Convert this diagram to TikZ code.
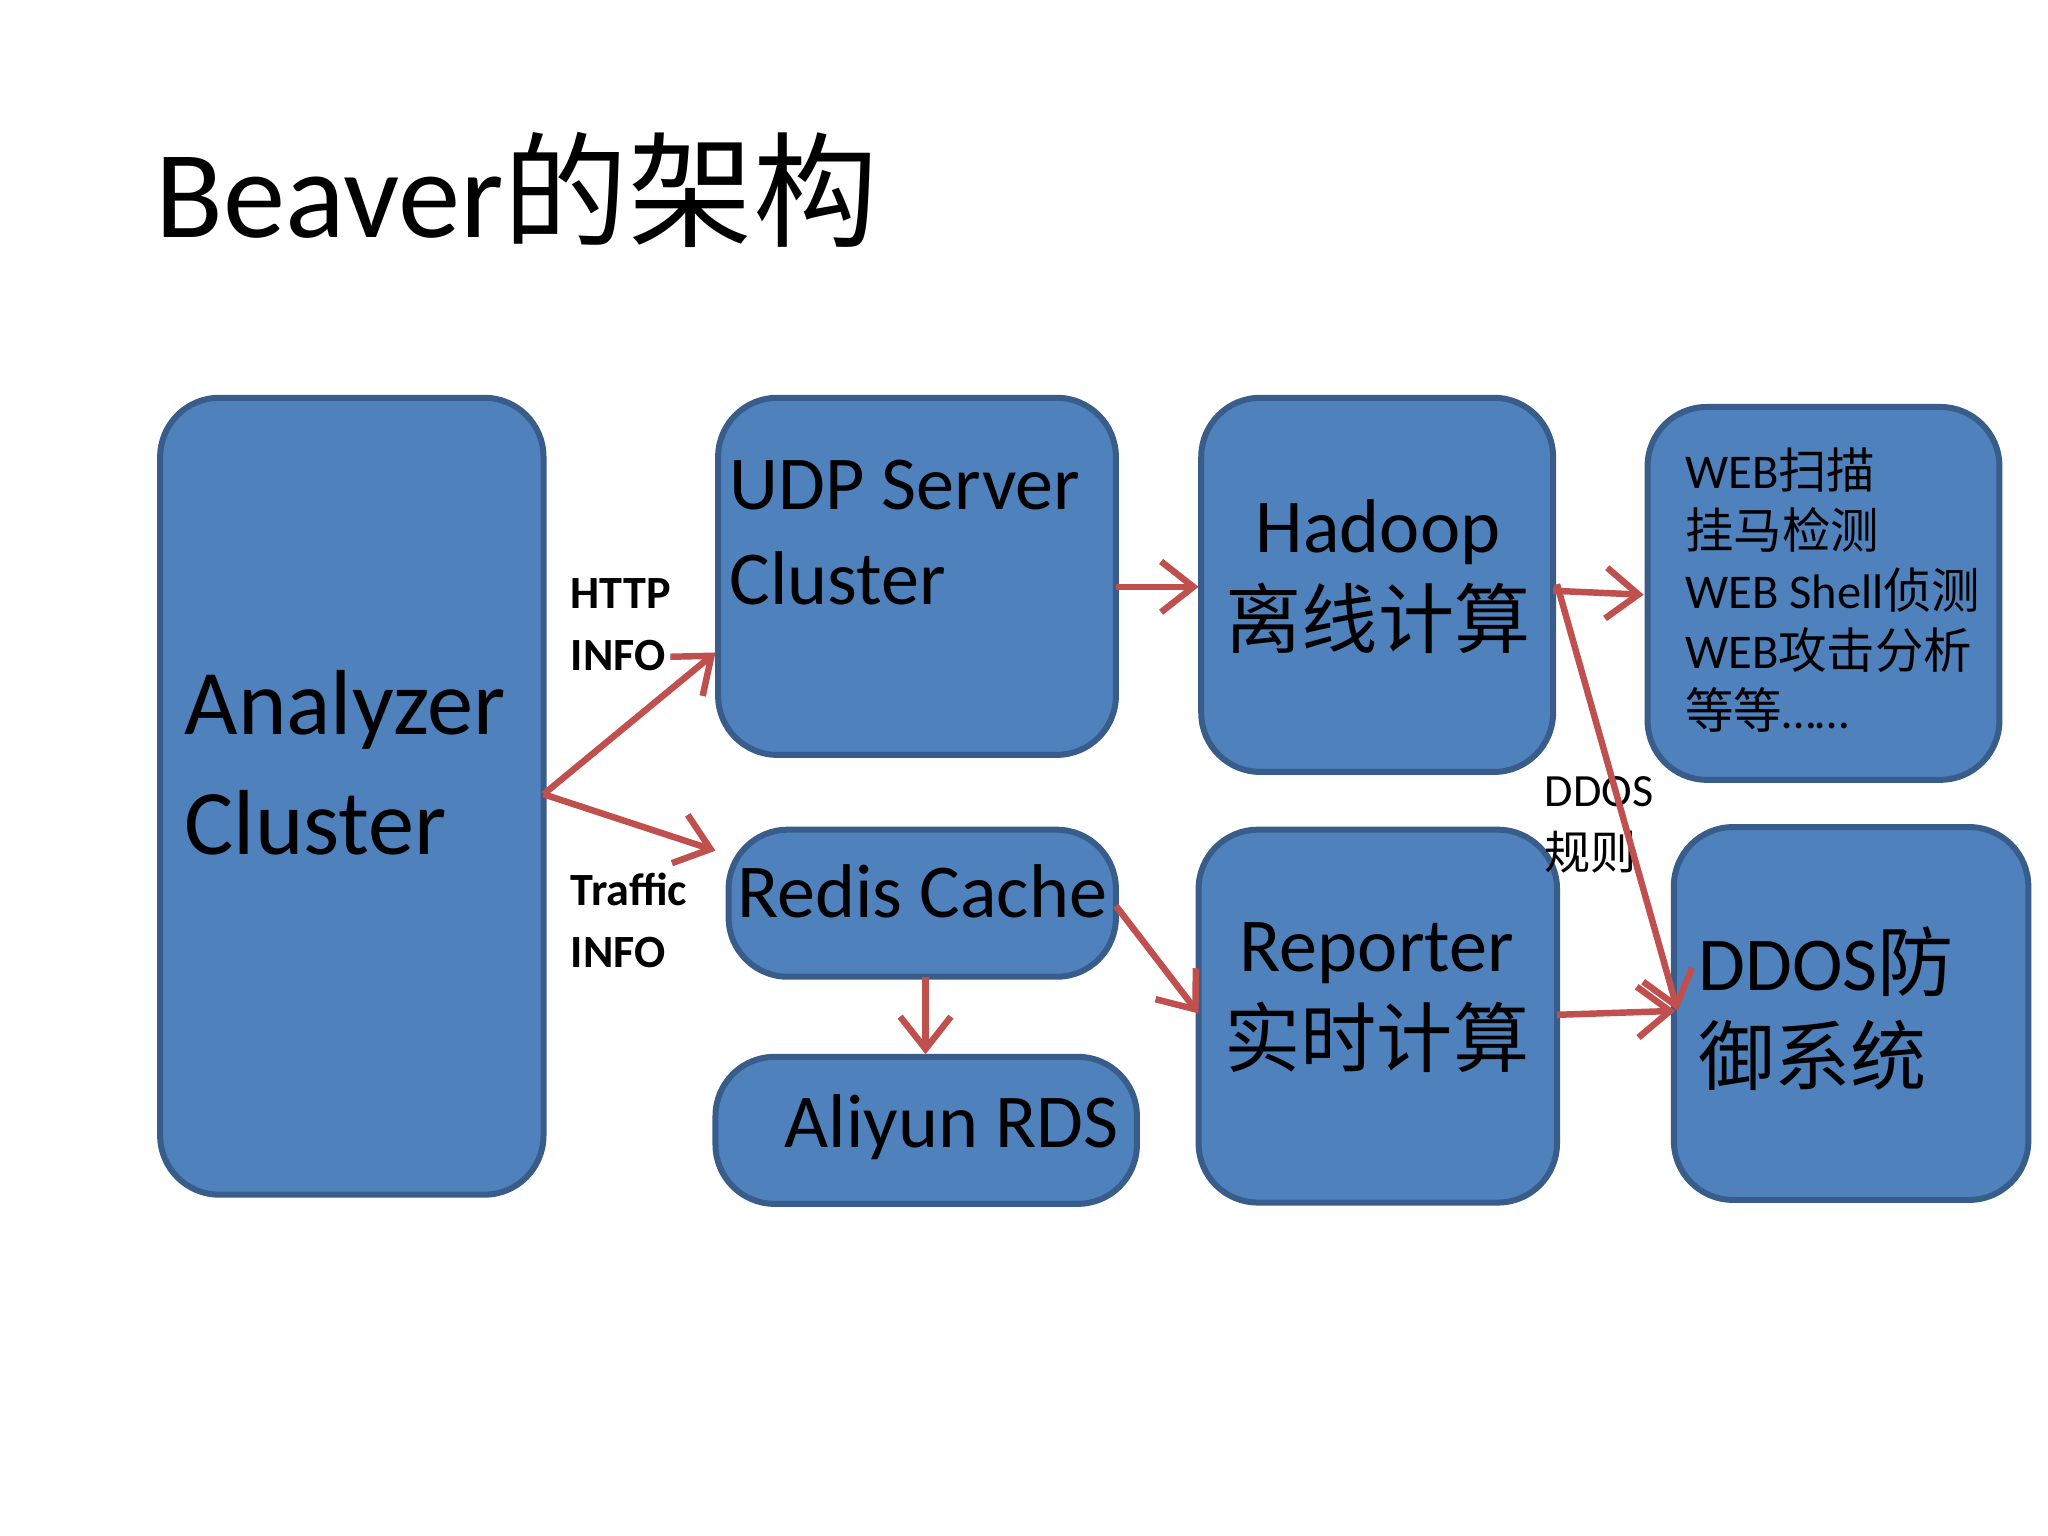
\documentclass[tikz,border=0pt]{standalone}
\usepackage{fontspec}
\setmainfont{Carlito}
\newfontfamily\cjk{Noto Sans CJK SC}
\usetikzlibrary{arrows.meta}
\definecolor{boxfill}{HTML}{4F81BD}
\definecolor{boxline}{HTML}{385D8A}
\definecolor{arrowred}{HTML}{C0504D}
\tikzset{
  blk/.style={draw=boxline,line width=1.3pt,fill=boxfill,rounded corners=0.45cm,inner sep=0pt},
  txt/.style={anchor=north west,align=left,inner sep=0pt,font=#1},
  flow/.style={draw=arrowred,line width=1.4pt,-{Straight Barb[length=7pt,width=11pt,line width=1.4pt]}},
  lbl/.style={anchor=north west,align=left,inner sep=0pt,font=\fontsize{10}{13.5}\selectfont\bfseries}
}
\begin{document}
\begin{tikzpicture}[x=0.01cm,y=-0.01cm]
\useasboundingbox[fill=white] (0,0) rectangle (1560,1170);
\node[txt={\fontsize{27}{30}\selectfont}] (title) at (118,100) {Beaver{\cjk 的架构}};
% boxes
\path[blk] (122,303) rectangle (414,910);
\coordinate (ana) at (414,605);
\path[blk] (547,303) rectangle (850,575);
\path[blk] (915,303) rectangle (1183,588);
\path[blk] (1255,310) rectangle (1523,594);
\path[blk] (555,632) rectangle (850,744);
\path[blk] (545,805) rectangle (866,917);
\path[blk] (913,632) rectangle (1186,916);
\path[blk] (1275,630) rectangle (1545,914);
% texts
\node[txt={\fontsize{20}{26}\selectfont}] (analyzer) at (140,510) {Analyzer\\Cluster};
\node[txt={\fontsize{16.5}{20.5}\selectfont}] (udp) at (555,350) {UDP Server\\Cluster};
\node[txt={\fontsize{16.5}{20.5}\selectfont},align=center] (hadoop) at (933,380) {Hadoop\\{\cjk 离线计算}};
\node[txt={\fontsize{10.5}{13}\selectfont}] (web) at (1283,340) {WEB{\cjk 扫描}\\{\cjk 挂马检测}\\WEB Shell{\cjk 侦测}\\WEB{\cjk 攻击分析}\\{\cjk 等等}……};
\node[txt={\fontsize{16.5}{20}\selectfont}] (redis) at (561,658) {Redis Cache};
\node[txt={\fontsize{16.5}{20}\selectfont}] (rds) at (597,833) {Aliyun RDS};
\node[txt={\fontsize{16.5}{20.5}\selectfont},align=center] (reporter) at (932,702) {Reporter\\{\cjk 实时计算}};
\node[txt={\fontsize{16.5}{20.5}\selectfont}] (ddos) at (1293,705) {DDOS{\cjk 防}\\{\cjk 御系统}};
% labels
\node[lbl] (http) at (434,440) {HTTP\\INFO};
\node[lbl] (traffic) at (434,664) {Traffic\\INFO};
\node[lbl,font=\fontsize{10}{13.5}\selectfont] (rule) at (1176,591) {DDOS\\{\cjk 规则}};
% arrows
\coordinate (udpin) at (545,497);
\coordinate (redin) at (545,648);
\coordinate (udpout) at (850,447);
\coordinate (hadin) at (913,447);
\coordinate (hadout) at (1183,450);
\coordinate (webin) at (1252,453);
\coordinate (hadout2) at (1186,445);
\coordinate (ddin) at (1278,770);
\coordinate (redout) at (705,744);
\coordinate (rdsin) at (705,803);
\coordinate (redout2) at (850,690);
\coordinate (repin) at (913,772);
\coordinate (repout) at (1186,773);
\coordinate (ddin2) at (1276,770);
\draw[flow] (ana) -- (udpin);
\draw[flow] (ana) -- (redin);
\draw[flow] (udpout) -- (hadin);
\draw[flow] (hadout) -- (webin);
\draw[flow] (hadout2) -- (ddin);
\draw[flow] (redout) -- (rdsin);
\draw[flow] (redout2) -- (repin);
\draw[flow] (repout) -- (ddin2);
\end{tikzpicture}
\end{document}
